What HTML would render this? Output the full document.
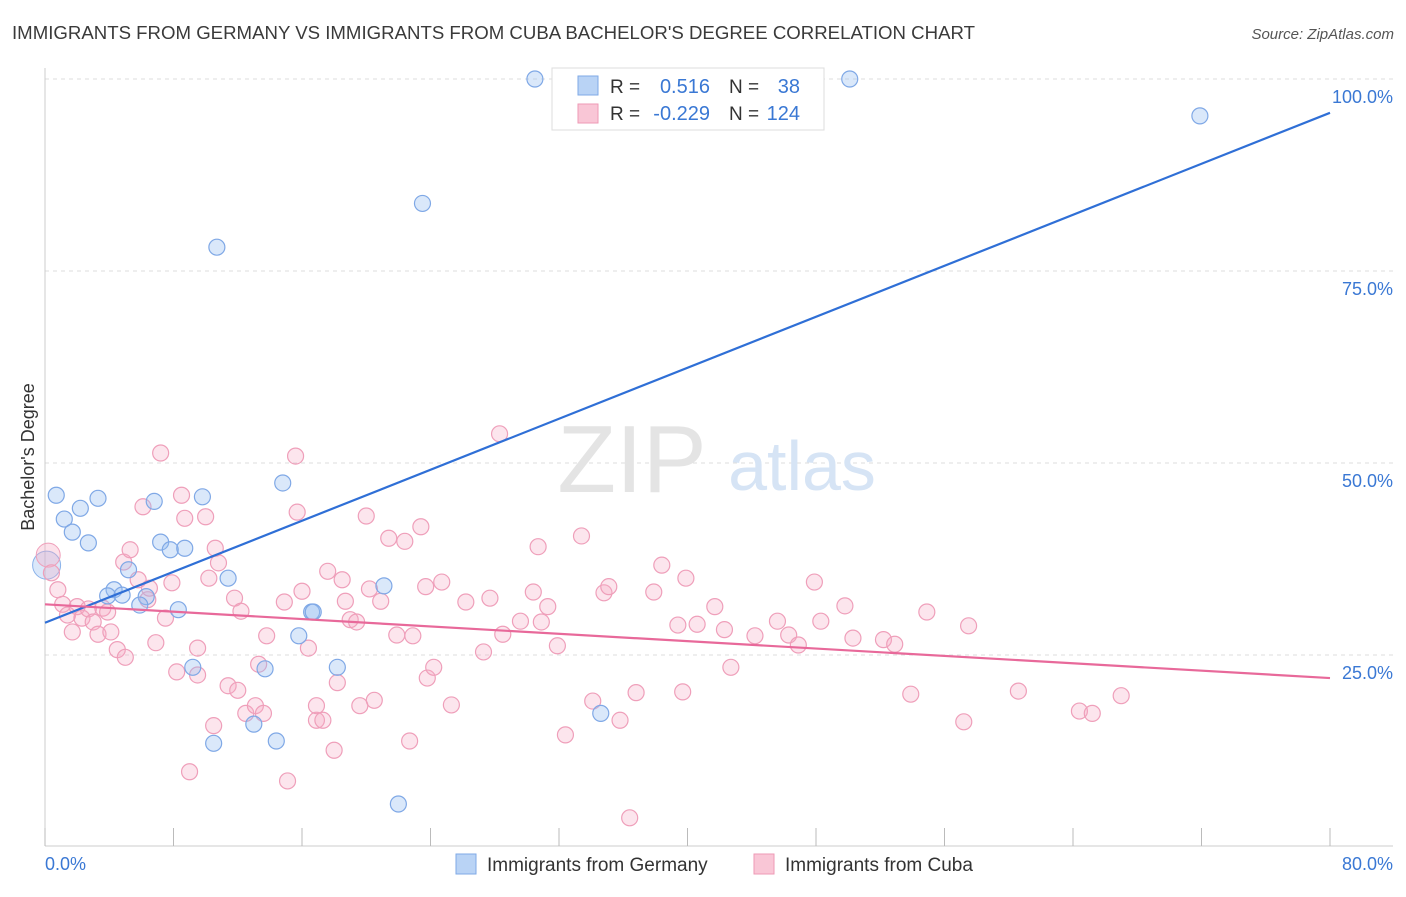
<!DOCTYPE html>
<html><head><meta charset="utf-8"><style>
body{margin:0;background:#fff;font-family:"Liberation Sans",sans-serif;}
svg text{font-family:"Liberation Sans",sans-serif;}
</style></head><body>
<svg id="chart" width="1406" height="892" xmlns="http://www.w3.org/2000/svg">
<text x="12" y="39" font-size="18" fill="#3a3a3a" textLength="963" lengthAdjust="spacingAndGlyphs">IMMIGRANTS FROM GERMANY VS IMMIGRANTS FROM CUBA BACHELOR'S DEGREE CORRELATION CHART</text>
<text x="1394" y="39" font-size="15" fill="#555" font-style="italic" text-anchor="end">Source: ZipAtlas.com</text>
<g id="grid"></g>
<text x="632" y="492" font-size="96" fill="#e4e4e4" font-family="Liberation Serif" text-anchor="middle">ZIP</text>
<text x="802" y="490" font-size="70" fill="#d6e4f5" text-anchor="middle">atlas</text>
<g id="pts"></g>
<g id="lines"></g>
<text transform="translate(34,457) rotate(-90)" font-size="18" fill="#333" text-anchor="middle">Bachelor's Degree</text>
<text x="45" y="870" font-size="18" fill="#3a78d4">0.0%</text>
<text x="1393" y="870" font-size="18" fill="#3a78d4" text-anchor="end">80.0%</text>
<g>
<rect x="552" y="68" width="272" height="62" fill="#fff" stroke="#ddd"/>
<rect x="578" y="76" width="20" height="19" fill="#b9d3f5" stroke="#7faae6"/>
<rect x="578" y="104" width="20" height="19" fill="#f9c6d6" stroke="#ee9ab5"/>
<text x="610" y="93" font-size="19" fill="#333">R =</text>
<text x="710" y="93" font-size="20" fill="#3a78d4" text-anchor="end">0.516</text>
<text x="729" y="93" font-size="19" fill="#333">N =</text>
<text x="800" y="93" font-size="20" fill="#3a78d4" text-anchor="end">38</text>
<text x="610" y="120" font-size="19" fill="#333">R =</text>
<text x="710" y="120" font-size="20" fill="#3a78d4" text-anchor="end">-0.229</text>
<text x="729" y="120" font-size="19" fill="#333">N =</text>
<text x="800" y="120" font-size="20" fill="#3a78d4" text-anchor="end">124</text>
</g>
<g>
<rect x="456" y="854" width="20" height="20" fill="#b9d3f5" stroke="#7faae6"/>
<text x="487" y="871" font-size="19" fill="#333">Immigrants from Germany</text>
<rect x="754" y="854" width="20" height="20" fill="#f9c6d6" stroke="#ee9ab5"/>
<text x="785" y="871" font-size="19" fill="#333">Immigrants from Cuba</text>
</g>
</svg>
<script>
const yTicks=[25,50,75,100];
const yTickLabels=["25.0%","50.0%","75.0%","100.0%"];
const blueX=[30.5,50.1,71.9,23.5,10.7,0.7,3.3,6.8,9.8,14.8,2.2,1.2,1.7,2.7,7.2,7.8,8.7,5.2,11.4,4.3,3.9,4.8,6.3,5.9,8.3,16.6,16.7,21.1,15.8,18.2,9.2,13.7,13.0,10.5,14.4,34.6,22.0];
const blueY=[100,100,95.2,83.8,78.1,45.8,45.4,45.0,45.6,47.4,44.1,42.7,41.0,39.6,39.7,38.7,38.9,36.1,35.0,33.5,32.7,32.8,32.6,31.5,30.9,30.6,30.6,34.0,27.5,23.4,23.4,23.2,16.0,13.5,13.8,17.4,5.6];
const pinkX=[0.4,0.8,1.1,1.4,1.7,2.0,2.3,2.7,3.0,3.3,3.6,3.9,4.1,4.5,5.0,4.9,5.3,5.8,6.1,6.4,6.5,6.9,7.2,7.5,7.9,8.2,8.5,8.7,9.0,9.5,9.5,10.0,10.2,10.6,10.8,10.5,11.4,11.8,12.0,12.2,12.5,13.1,13.3,13.6,13.8,15.1,14.9,15.6,15.7,16.0,16.4,16.9,16.9,17.3,17.6,18.0,18.2,18.5,18.7,19.0,19.4,19.6,20.0,20.2,20.5,20.9,21.4,21.9,22.4,22.9,22.7,23.4,23.7,23.8,24.2,24.7,25.3,26.2,27.3,27.7,28.3,28.5,29.6,30.4,30.7,30.9,31.3,31.9,32.4,33.4,34.1,34.8,35.1,35.8,36.4,36.8,37.9,38.4,39.4,39.7,39.9,40.6,41.7,42.3,42.7,44.2,45.6,46.3,46.9,47.9,48.3,49.8,50.3,52.2,52.9,53.9,54.9,57.2,57.5,60.6,64.4,65.2,67.0];
const pinkY=[35.7,33.5,31.6,30.2,28.0,31.3,29.8,31.0,29.3,27.7,31.1,30.6,28.0,25.7,24.7,37.1,38.7,34.8,44.3,32.2,33.7,26.6,51.3,29.8,34.4,22.8,45.8,42.8,9.8,22.4,25.9,43.0,35.0,38.9,37.0,15.8,21.0,32.4,20.4,30.7,17.4,18.4,23.8,17.4,27.5,8.6,31.9,50.9,43.6,33.3,25.9,16.5,18.4,16.5,35.9,12.6,21.4,34.8,32.0,29.6,29.3,18.4,43.1,33.6,19.1,32.0,40.2,27.6,39.8,27.5,13.8,41.7,33.9,22.0,23.4,34.5,18.5,31.9,25.4,32.4,53.8,27.7,29.4,33.2,39.1,29.3,31.3,26.2,14.6,40.5,19.0,33.1,33.9,16.5,3.8,20.1,33.2,36.7,28.9,20.2,35.0,29.0,31.3,28.3,23.4,27.5,29.4,27.6,26.3,34.5,29.4,31.4,27.2,27.0,26.4,19.9,30.6,16.3,28.8,20.3,17.7,17.4,19.7];
const blueTrend=[29.2,95.6];
const pinkTrend=[31.6,22.0];
const X=v=>45+v/80*1285, Y=v=>847-v/100*768;
const NS="http://www.w3.org/2000/svg";
function mk(t,a,p){const e=document.createElementNS(NS,t);for(const k in a)e.setAttribute(k,a[k]);p.appendChild(e);return e;}
const grid=document.getElementById('grid');
yTicks.forEach((t,i)=>{
 const l=mk('line',{x1:45,x2:1393,y1:Y(t),y2:Y(t),stroke:'#ddd','stroke-dasharray':'4,4'},grid);
 
 
 const tx=mk('text',{x:1393,y:Y(t)+24,'font-size':18,fill:'#3a78d4','text-anchor':'end'},grid);
 tx.textContent=yTickLabels[i];
 
 
});
const ax=mk('line',{x1:45,x2:45,y1:68,y2:846,stroke:'#ccc'},grid);


const bx=mk('line',{x1:45,x2:1393,y1:846,y2:846,stroke:'#ccc'},grid);


for(let i=0;i<=10;i++){const tk=mk('line',{x1:X(i*8),x2:X(i*8),y1:828,y2:846,stroke:'#bbb'},grid);
 
 }
const pts=document.getElementById('pts');
const bigB=mk('circle',{cx:X(0.1),cy:Y(36.7),r:14,fill:'rgba(150,190,240,0.35)',stroke:'#8ab2ea'},pts);


const bigP=mk('circle',{cx:X(0.2),cy:Y(38.0),r:12,fill:'rgba(245,170,195,0.35)',stroke:'#ef9fba'},pts);


pinkX.forEach((x,i)=>{const c=mk('circle',{cx:X(x),cy:Y(pinkY[i]),r:8,fill:'rgba(245,170,195,0.3)',stroke:'#ef9fba','stroke-width':1.2},pts);
 
 });
blueX.forEach((x,i)=>{const c=mk('circle',{cx:X(x),cy:Y(blueY[i]),r:8,fill:'rgba(150,190,240,0.35)',stroke:'#7fa8e6','stroke-width':1.2},pts);
 
 });
const lines=document.getElementById('lines');
const bl=mk('line',{x1:X(0),y1:Y(blueTrend[0]),x2:X(80),y2:Y(blueTrend[1]),stroke:'#2f6fd6','stroke-width':2.2},lines);


const pl=mk('line',{x1:X(0),y1:Y(pinkTrend[0]),x2:X(80),y2:Y(pinkTrend[1]),stroke:'#e8699a','stroke-width':2.2},lines);


</script>
</body></html>
